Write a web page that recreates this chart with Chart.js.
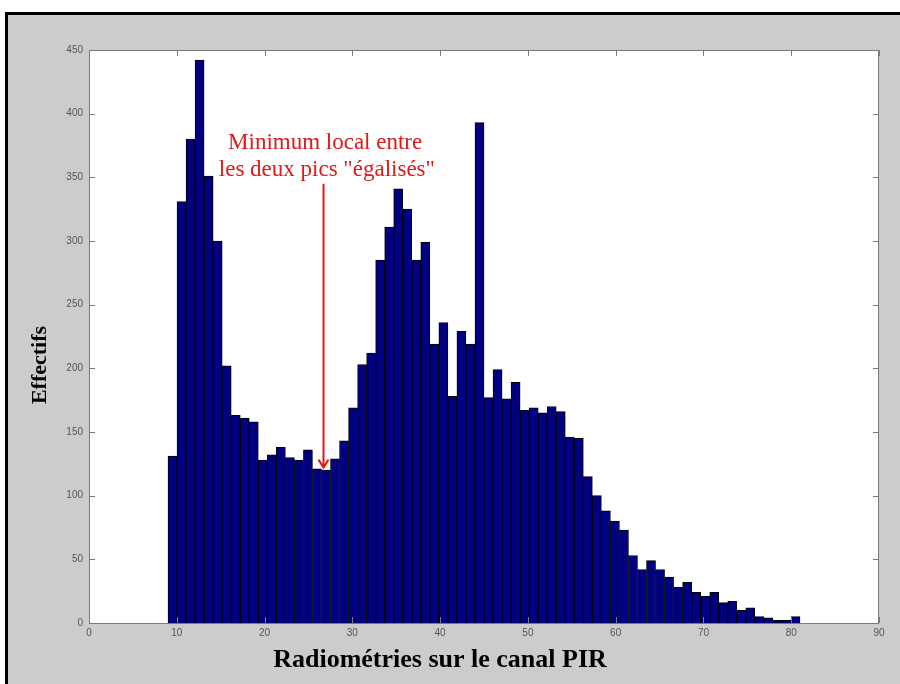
<!DOCTYPE html>
<html>
<head>
<meta charset="utf-8">
<script src="https://cdn.jsdelivr.net/npm/chart.js@4"></script>
<style>
  html, body { margin: 0; padding: 0; background: #fff; }
  canvas { display: block; }
</style>
</head>
<body>
<canvas id="myChart" width="900" height="684"></canvas>
<script>
// histogram : 70 classes between 9 and 81
const binMin = 9;
const binMax = 81;
const counts = [
  131, 331, 380, 442, 351, 300, 202, 163, 161, 158,
  128, 132, 138, 130, 128, 136, 121, 120, 129, 143,
  169, 203, 212, 285, 311, 341, 325, 285, 299, 219,
  236, 178, 229, 219, 393, 177, 199, 176, 189, 167,
  169, 165, 170, 166, 146, 145, 115, 100, 88, 80,
  73, 53, 42, 49, 42, 36, 28, 32, 24, 21,
  24, 16, 17, 10, 12, 5, 4, 2, 2, 5
];

const xTicks = [0, 10, 20, 30, 40, 50, 60, 70, 80, 90];
const xTickLabels = ["0", "10", "20", "30", "40", "50", "60", "70", "80", "90"];
const yTicks = [0, 50, 100, 150, 200, 250, 300, 350, 400, 450];
const yTickLabels = ["0", "50", "100", "150", "200", "250", "300", "350", "400", "450"];

const xTitle = "Radiométries sur le canal PIR";
const yTitle = "Effectifs";
const noteLines = ["Minimum local entre", "les deux pics \"égalisés\""];

// bin centres from the class edges
let binWidth = (binMax - binMin) / counts.length;
let points = counts.map((c, i) => ({ x: binMin + binWidth * (i + 0.5), y: c }));

// background, box, inner ticks, titles and the red note
const decor = {
  id: 'decor',
  beforeDraw(chart) {
    const c = chart.ctx;
    const a = chart.chartArea;
    c.save();
    c.fillStyle = '#ffffff';
    c.fillRect(0, 0, chart.width, chart.height);
    c.fillStyle = '#cccccc';
    c.fillRect(5, 12, chart.width - 5, chart.height - 12);
    c.strokeStyle = '#000';
    c.lineWidth = 3;
    c.beginPath();
    c.moveTo(6.5, chart.height);
    c.lineTo(6.5, 13.5);
    c.lineTo(chart.width, 13.5);
    c.stroke();
    c.fillStyle = '#ffffff';
    c.fillRect(a.left, a.top, a.right - a.left, a.bottom - a.top);
    c.restore();
  },
  afterDatasetsDraw(chart) {
    const c = chart.ctx;
    const a = chart.chartArea;
    const xs = chart.scales.x;
    const ys = chart.scales.y;
    c.save();

    // axes box
    c.strokeStyle = '#7a7a7a';
    c.lineWidth = 1;
    c.strokeRect(a.left + 0.5, a.top + 0.5, a.right - a.left - 1, a.bottom - a.top);

    // ticks pointing inward
    let tl = 6;
    c.beginPath();
    xTicks.forEach(v => {
      let px = Math.round(xs.getPixelForValue(v)) + 0.5;
      c.moveTo(px, a.bottom); c.lineTo(px, a.bottom - tl);
      c.moveTo(px, a.top); c.lineTo(px, a.top + tl);
    });
    yTicks.forEach(v => {
      let py = Math.round(ys.getPixelForValue(v)) + 0.5;
      c.moveTo(a.left, py); c.lineTo(a.left + tl, py);
      c.moveTo(a.right, py); c.lineTo(a.right - tl, py);
    });
    c.stroke();

    // axis titles
    c.fillStyle = '#000';
    c.textAlign = 'center';
    c.textBaseline = 'middle';
    c.font = 'bold 26px "Liberation Serif", "Times New Roman", serif';
    c.fillText(xTitle, 440, 660);
    c.save();
    c.translate(40, 365);
    c.rotate(-Math.PI / 2);
    c.font = 'bold 22px "Liberation Serif", "Times New Roman", serif';
    c.fillText(yTitle, 0, 0);
    c.restore();

    // red note + arrow
    c.fillStyle = '#e01818';
    c.strokeStyle = '#e01818';
    c.font = '23px "Liberation Serif", "Times New Roman", serif';
    c.fillText(noteLines[0], xs.getPixelForValue(26.9), ys.getPixelForValue(377));
    c.fillText(noteLines[1], xs.getPixelForValue(27.1), ys.getPixelForValue(356));

    let ax = Math.round(xs.getPixelForValue(26.65)) + 0.5;
    let ay0 = ys.getPixelForValue(345);
    let ay1 = ys.getPixelForValue(122);
    c.lineWidth = 2;
    c.beginPath();
    c.moveTo(ax, ay0);
    c.lineTo(ax, ay1);
    c.moveTo(ax - 5, ay1 - 8);
    c.lineTo(ax, ay1);
    c.lineTo(ax + 5, ay1 - 8);
    c.stroke();

    c.restore();
  }
};

let ctx = document.getElementById("myChart");

let chart = new Chart(ctx, {
  type: 'bar',
  data: {
    datasets: [{
      label: 'Effectifs',
      data: points,
      backgroundColor: '#000080',
      borderColor: '#000000',
      borderWidth: 1,
      borderSkipped: 'start',
      barPercentage: 1,
      categoryPercentage: 1
    }]
  },
  options: {
    responsive: false,
    animation: false,
    layout: {
      padding: { top: 50, right: 21, bottom: 0, left: 0 }
    },
    plugins: {
      legend: { display: false },
      tooltip: { enabled: false }
    },
    scales: {
      x: {
        type: 'linear',
        min: 0,
        max: 90,
        offset: false,
        grid: { display: false, drawTicks: false },
        border: { display: false },
        afterBuildTicks: (scale) => { scale.ticks = xTicks.map(v => ({ value: v })); },
        afterFit: (scale) => { scale.height = 61; },
        ticks: {
          autoSkip: false,
          maxRotation: 0,
          padding: 4,
          color: '#555',
          font: { family: '"Liberation Sans", Arial, sans-serif', size: 10 },
          callback: (v, i) => xTickLabels[i]
        }
      },
      y: {
        min: 0,
        max: 450,
        grid: { display: false, drawTicks: false },
        border: { display: false },
        afterBuildTicks: (scale) => { scale.ticks = yTicks.map(v => ({ value: v })); },
        afterFit: (scale) => { scale.width = 89; },
        ticks: {
          padding: 6,
          color: '#555',
          font: { family: '"Liberation Sans", Arial, sans-serif', size: 10 },
          callback: (v, i) => yTickLabels[i]
        }
      }
    }
  },
  plugins: [decor]
});
</script>
</body>
</html>
